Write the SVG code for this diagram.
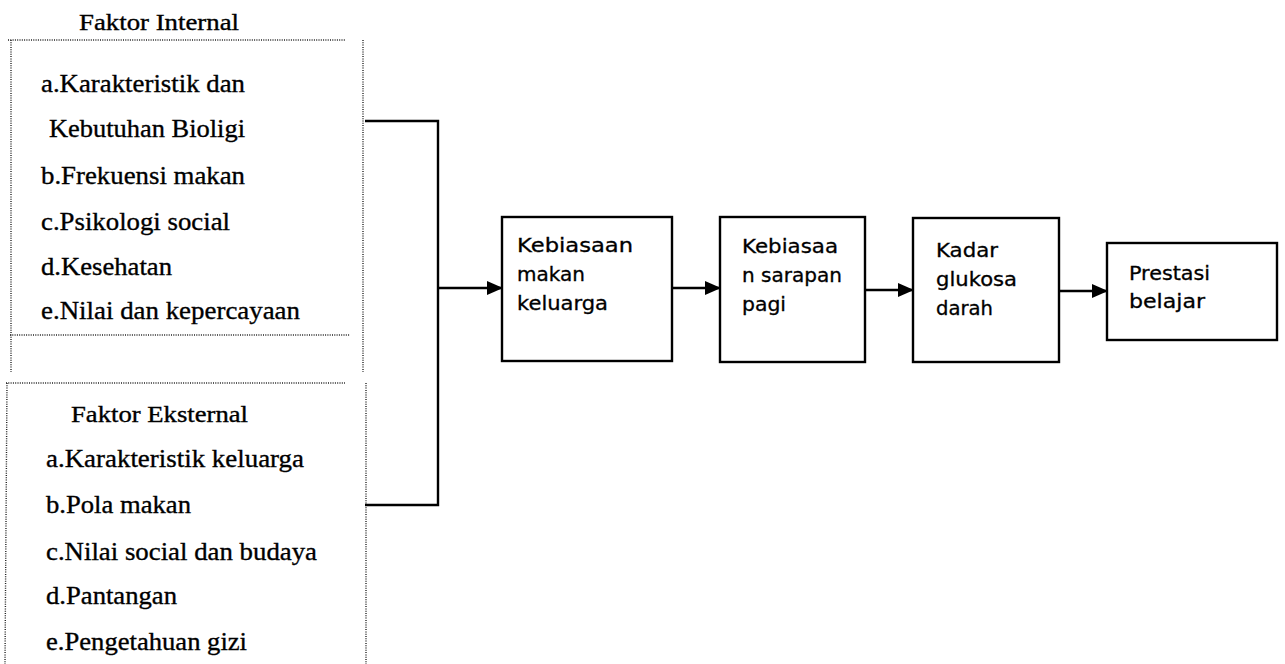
<svg xmlns="http://www.w3.org/2000/svg" width="1285" height="664" viewBox="0 0 1285 664">
  <defs>
    <marker id="arr" markerWidth="16" markerHeight="14" refX="15" refY="7" orient="auto" markerUnits="userSpaceOnUse">
      <path d="M0,0 L16,7 L0,14 Z" fill="#000"/>
    </marker>
    <style>
      .dot { stroke:#222; stroke-width:1.4; stroke-dasharray:1 1.3; fill:none; }
      .ser { font-family:"Liberation Serif","Times New Roman",serif; font-size:26px; fill:#000; stroke:#000; stroke-width:0.35; }
      .ttl { font-family:"Liberation Serif","Times New Roman",serif; font-size:23px; fill:#000; stroke:#000; stroke-width:0.35; }
      .box { fill:#fff; stroke:#000; stroke-width:2.4; }
      .lbl { font-family:"DejaVu Sans","Noto Sans",sans-serif; font-size:19px; fill:#000; stroke:#000; stroke-width:0.3; }
      .con { stroke:#000; stroke-width:2.4; fill:none; }
    </style>
  </defs>
  <rect width="1285" height="664" fill="#fff"/>

  <g id="faktor-internal">
    <line class="dot" x1="8" y1="40" x2="345" y2="40"/>
    <line class="dot" x1="11" y1="40" x2="11" y2="372"/>
    <line class="dot" x1="363" y1="40" x2="363" y2="372"/>
    <line class="dot" x1="10" y1="335" x2="350" y2="335"/>
    <text class="ttl" x="79" y="30" textLength="160" lengthAdjust="spacingAndGlyphs">Faktor Internal</text>
    <text class="ser" x="41" y="92" textLength="204" lengthAdjust="spacingAndGlyphs">a.Karakteristik dan</text>
    <text class="ser" x="49" y="137" textLength="196" lengthAdjust="spacingAndGlyphs">Kebutuhan Bioligi</text>
    <text class="ser" x="41" y="184" textLength="204" lengthAdjust="spacingAndGlyphs">b.Frekuensi makan</text>
    <text class="ser" x="41" y="230" textLength="189" lengthAdjust="spacingAndGlyphs">c.Psikologi social</text>
    <text class="ser" x="41" y="275" textLength="131" lengthAdjust="spacingAndGlyphs">d.Kesehatan</text>
    <text class="ser" x="41" y="319" textLength="259" lengthAdjust="spacingAndGlyphs">e.Nilai dan kepercayaan</text>
  </g>

  <g id="faktor-eksternal">
    <line class="dot" x1="6" y1="383" x2="345" y2="383"/>
    <line class="dot" x1="7" y1="383" x2="5" y2="664"/>
    <line class="dot" x1="366" y1="383" x2="366" y2="664"/>
    <text class="ttl" x="71" y="422" textLength="177" lengthAdjust="spacingAndGlyphs">Faktor Eksternal</text>
    <text class="ser" x="46" y="467" textLength="258" lengthAdjust="spacingAndGlyphs">a.Karakteristik keluarga</text>
    <text class="ser" x="46" y="513" textLength="145" lengthAdjust="spacingAndGlyphs">b.Pola makan</text>
    <text class="ser" x="46" y="560" textLength="271" lengthAdjust="spacingAndGlyphs">c.Nilai social dan budaya</text>
    <text class="ser" x="46" y="604" textLength="131" lengthAdjust="spacingAndGlyphs">d.Pantangan</text>
    <text class="ser" x="46" y="650" textLength="201" lengthAdjust="spacingAndGlyphs">e.Pengetahuan gizi</text>
  </g>

  <g id="connectors">
    <polyline class="con" points="365,121 438,121 438,505 365,505"/>
    <line class="con" x1="438" y1="288" x2="502" y2="288" marker-end="url(#arr)"/>
    <line class="con" x1="672" y1="288" x2="720" y2="288" marker-end="url(#arr)"/>
    <line class="con" x1="865" y1="290" x2="913" y2="290" marker-end="url(#arr)"/>
    <line class="con" x1="1059" y1="291" x2="1107" y2="291" marker-end="url(#arr)"/>
  </g>

  <g id="kebiasaan-makan-keluarga">
    <rect class="box" x="502" y="217" width="170" height="144"/>
    <text class="lbl" x="517" y="252" textLength="116" lengthAdjust="spacingAndGlyphs">Kebiasaan</text>
    <text class="lbl" x="517" y="281" textLength="68" lengthAdjust="spacingAndGlyphs">makan</text>
    <text class="lbl" x="517" y="310" textLength="91" lengthAdjust="spacingAndGlyphs">keluarga</text>
  </g>

  <g id="kebiasaan-sarapan-pagi">
    <rect class="box" x="720" y="217" width="145" height="145"/>
    <text class="lbl" x="742" y="253" textLength="96" lengthAdjust="spacingAndGlyphs">Kebiasaa</text>
    <text class="lbl" x="742" y="282" textLength="100" lengthAdjust="spacingAndGlyphs">n sarapan</text>
    <text class="lbl" x="742" y="311" textLength="44" lengthAdjust="spacingAndGlyphs">pagi</text>
  </g>

  <g id="kadar-glukosa-darah">
    <rect class="box" x="913" y="218" width="146" height="144"/>
    <text class="lbl" x="936" y="257" textLength="62" lengthAdjust="spacingAndGlyphs">Kadar</text>
    <text class="lbl" x="936" y="286" textLength="81" lengthAdjust="spacingAndGlyphs">glukosa</text>
    <text class="lbl" x="936" y="315" textLength="57" lengthAdjust="spacingAndGlyphs">darah</text>
  </g>

  <g id="prestasi-belajar">
    <rect class="box" x="1107" y="243" width="170" height="97"/>
    <text class="lbl" x="1129" y="280" textLength="81" lengthAdjust="spacingAndGlyphs">Prestasi</text>
    <text class="lbl" x="1129" y="308" textLength="76" lengthAdjust="spacingAndGlyphs">belajar</text>
  </g>
</svg>
